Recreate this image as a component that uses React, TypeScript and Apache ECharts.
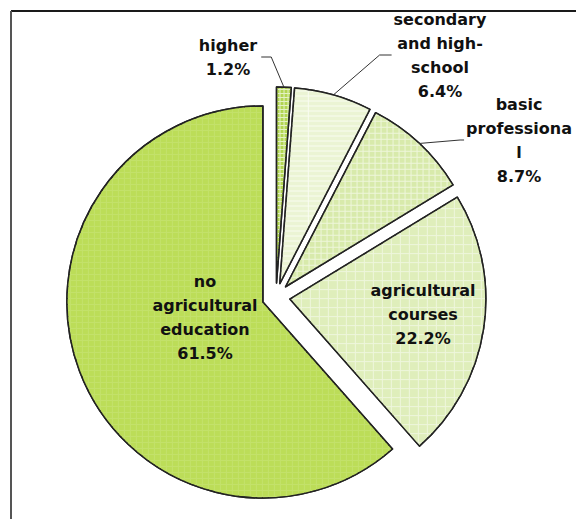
import React, { useEffect, useRef } from 'react';
import * as echarts from 'echarts';

const categories = ['higher', 'secondary and high-school', 'basic professional', 'agricultural courses', 'no agricultural education'];
const labelTexts = ['higher', 'secondary\nand high-\nschool', 'basic\nprofessiona\nl', 'agricultural\ncourses', 'no\nagricultural\neducation'];
const shares = [1.2, 6.4, 8.7, 22.2, 61.5];
// base (line) colour and tile colour of each slice's texture
const lineColors = ['#e4f2c4', '#f9fcf1', '#eef6da', '#eef6dc', '#c3e16b'];
const tileColors = ['#b2d552', '#ebf4d4', '#d8eaab', '#dfeebb', '#bcdd58'];
const tileSizes = [[3, 3], [60, 4], [5, 5], [8, 8], [5, 5]];

const CENTER = [276, 297];
const RADIUS = 196;
const EXPLODE = 14;

// label anchor (centre of text block), leader side and horizontal leader length
const labelPlace = [
  { x: 228, y: 57, side: 'right', len2: 10 },
  { x: 440, y: 55, side: 'left', len2: 12 },
  { x: 519, y: 140, side: 'left', len2: 4 },
  { x: 423, y: 314, side: 'none', len2: 0 },
  { x: 205, y: 317, side: 'none', len2: 0 },
];

export default function App() {
  const ref = useRef<HTMLDivElement>(null);
  useEffect(() => {
    if (!ref.current) return;
    const chart = echarts.init(ref.current, null, { renderer: 'svg' });
    const sliceData = categories.map((name, i) => ({
      name,
      value: shares[i],
      selected: true,
      itemStyle: {
        color: lineColors[i],
        decal: {
          symbol: 'rect',
          symbolSize: 1,
          color: tileColors[i],
          dashArrayX: [[tileSizes[i][0], 1]],
          dashArrayY: [tileSizes[i][1], 1],
          rotation: 0,
        },
      },
    }));
    const labelData = categories.map((name, i) => ({
      name,
      value: shares[i],
      label: { position: labelPlace[i].side === 'none' ? 'inside' : 'outside' },
      labelLine: { show: labelPlace[i].side !== 'none' },
    }));
    chart.setOption({
      animation: false,
      backgroundColor: '#ffffff',
      graphic: [
        { type: 'line', shape: { x1: 11, y1: 11, x2: 576, y2: 11 }, style: { stroke: '#1a1a1a', lineWidth: 2 } },
        { type: 'line', shape: { x1: 11, y1: 11, x2: 11, y2: 519 }, style: { stroke: '#555555', lineWidth: 2 } },
      ],
      series: [
        {
          type: 'pie',
          center: CENTER,
          radius: RADIUS,
          startAngle: 90,
          clockwise: true,
          selectedMode: 'multiple',
          selectedOffset: EXPLODE,
          silent: true,
          itemStyle: { borderColor: '#222222', borderWidth: 1.5 },
          select: { itemStyle: { borderColor: '#222222', borderWidth: 1.5 } },
          emphasis: { disabled: true },
          label: { show: false },
          labelLine: { show: false },
          data: sliceData,
        },
        {
          type: 'pie',
          center: CENTER,
          radius: RADIUS,
          startAngle: 90,
          clockwise: true,
          silent: true,
          z: 3,
          avoidLabelOverlap: false,
          itemStyle: { color: 'rgba(0,0,0,0)', borderWidth: 0 },
          emphasis: { disabled: true },
          label: {
            color: '#111111',
            fontFamily: 'DejaVu Sans',
            fontWeight: 'bold',
            fontSize: 16,
            lineHeight: 24,
            align: 'center',
            formatter: (p: any) => `${labelTexts[p.dataIndex]}\n${shares[p.dataIndex].toFixed(1)}%`,
          },
          labelLine: { lineStyle: { color: '#333333', width: 1 }, length: 20, length2: 10 },
          labelLayout: (params: any) => {
            const lp = labelPlace[params.dataIndex];
            const res: any = { x: lp.x, y: lp.y, align: 'center', verticalAlign: 'middle' };
            if (lp.side !== 'none' && params.labelLinePoints) {
              const p0 = params.labelLinePoints[0];
              const ddx = p0[0] - CENTER[0];
              const ddy = p0[1] - CENTER[1];
              const d = Math.sqrt(ddx * ddx + ddy * ddy) || 1;
              const start = [p0[0] + (EXPLODE * ddx) / d, p0[1] + (EXPLODE * ddy) / d];
              const w = params.labelRect.width;
              if (lp.side === 'right') {
                const end = [lp.x + w / 2 + 4, lp.y];
                res.labelLinePoints = [start, [end[0] + lp.len2, end[1]], end];
              } else {
                const end = [lp.x - w / 2 - 2, lp.y];
                res.labelLinePoints = [start, [end[0] - lp.len2, end[1]], end];
              }
            }
            return res;
          },
          data: labelData,
        },
      ],
    });
    return () => chart.dispose();
  }, []);
  return <div ref={ref} style={{ position: 'fixed', left: 0, top: 0, width: 576, height: 519 }} />;
}
